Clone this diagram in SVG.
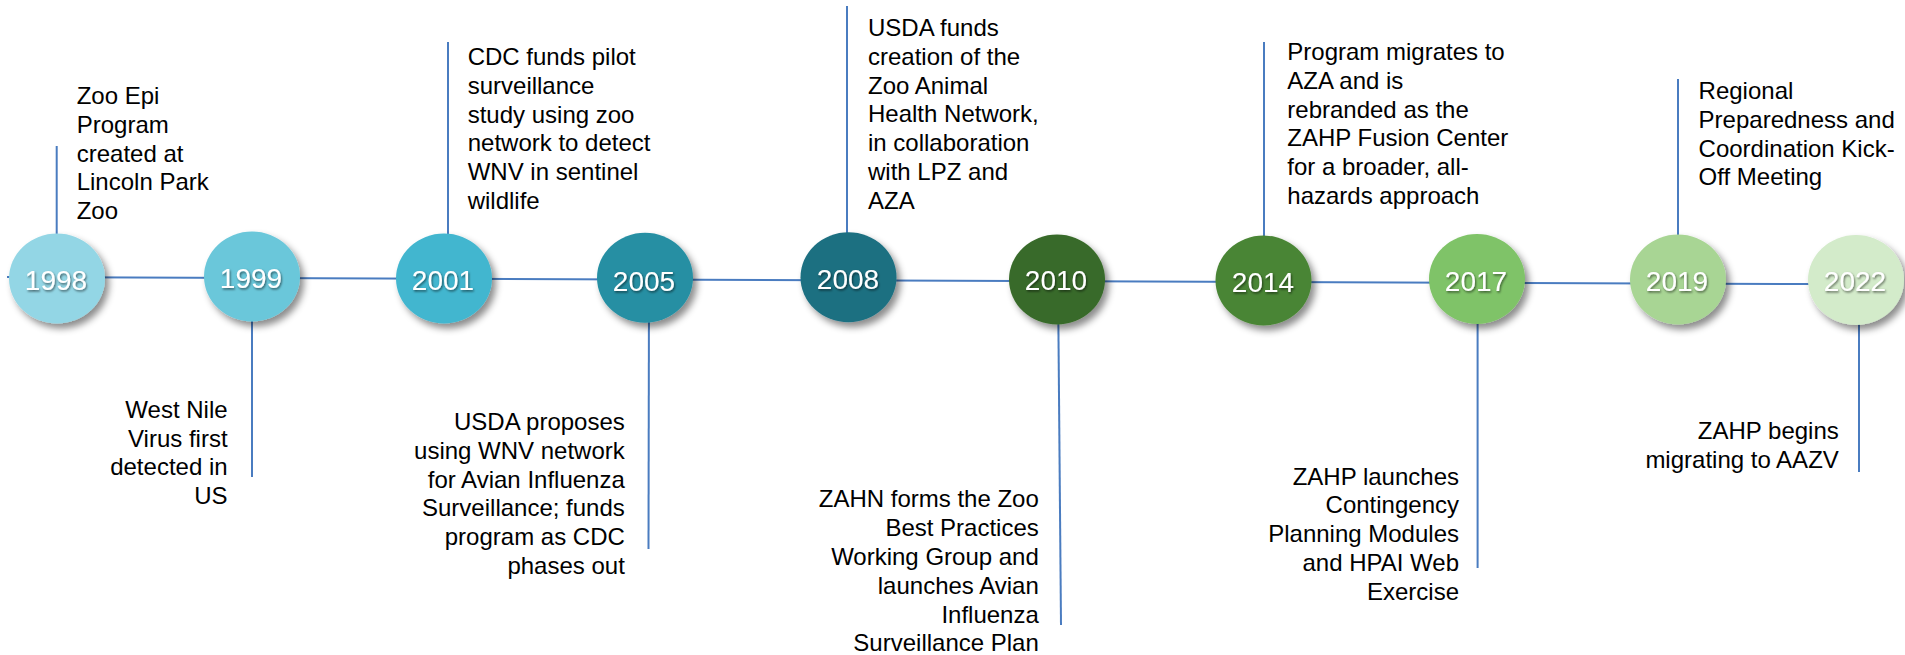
<svg xmlns="http://www.w3.org/2000/svg" width="1905" height="655" viewBox="0 0 1905 655">
<defs>
<filter id="sh" x="-30%" y="-30%" width="170%" height="170%">
<feDropShadow dx="4" dy="5" stdDeviation="3.5" flood-color="#000" flood-opacity="0.45"/>
</filter>
<filter id="tsh" x="-20%" y="-30%" width="140%" height="170%">
<feDropShadow dx="1" dy="1.5" stdDeviation="0.8" flood-color="#000" flood-opacity="0.55"/>
</filter>
</defs>
<style>
.ln{stroke:#4A7CC0;stroke-width:2;fill:none}
.yr{font-family:"Liberation Sans",Arial,sans-serif;font-size:28px;fill:#fff;text-anchor:middle}
.t{font-family:"Liberation Sans",Arial,sans-serif;font-size:24px;fill:#000}
.r{text-anchor:end}
</style>
<rect width="1905" height="655" fill="#fff"/>
<g id="connectors">
<line class="ln" x1="7" y1="277" x2="1810" y2="284"/>
<line class="ln" x1="56.7" y1="146" x2="56.7" y2="270"/>
<line class="ln" x1="252" y1="280" x2="252" y2="477"/>
<line class="ln" x1="448" y1="42" x2="448" y2="270"/>
<line class="ln" x1="649" y1="280" x2="648.5" y2="549"/>
<line class="ln" x1="847" y1="6" x2="847" y2="270"/>
<line class="ln" x1="1058" y1="280" x2="1061" y2="625"/>
<line class="ln" x1="1264" y1="42" x2="1264" y2="270"/>
<line class="ln" x1="1477.6" y1="280" x2="1477.6" y2="568"/>
<line class="ln" x1="1678" y1="79" x2="1678" y2="270"/>
<line class="ln" x1="1859" y1="285" x2="1859" y2="472"/>
</g>
<g id="n1998">
<ellipse cx="57" cy="278.5" rx="48" ry="45" fill="#93D6E5" filter="url(#sh)"/>
<text class="yr" x="56" y="289.5" filter="url(#tsh)">1998</text>
<text class="t" x="76.7" y="104"><tspan x="76.7">Zoo Epi</tspan><tspan x="76.7" dy="28.8">Program</tspan><tspan x="76.7" dy="28.8">created at</tspan><tspan x="76.7" dy="28.8">Lincoln Park</tspan><tspan x="76.7" dy="28.8">Zoo</tspan></text>
</g>
<g id="n1999">
<ellipse cx="252" cy="276.5" rx="48" ry="45" fill="#6AC7DA" filter="url(#sh)"/>
<text class="yr" x="251" y="287.5" filter="url(#tsh)">1999</text>
<text class="t r" x="227.6" y="417.7"><tspan x="227.6">West Nile</tspan><tspan x="227.6" dy="28.8">Virus first</tspan><tspan x="227.6" dy="28.8">detected in</tspan><tspan x="227.6" dy="28.8">US</tspan></text>
</g>
<g id="n2001">
<ellipse cx="444" cy="278.5" rx="48" ry="45" fill="#42B6CF" filter="url(#sh)"/>
<text class="yr" x="443" y="289.5" filter="url(#tsh)">2001</text>
<text class="t" x="467.7" y="65"><tspan x="467.7">CDC funds pilot</tspan><tspan x="467.7" dy="28.8">surveillance</tspan><tspan x="467.7" dy="28.8">study using zoo</tspan><tspan x="467.7" dy="28.8">network to detect</tspan><tspan x="467.7" dy="28.8">WNV in sentinel</tspan><tspan x="467.7" dy="28.8">wildlife</tspan></text>
</g>
<g id="n2005">
<ellipse cx="645" cy="277.7" rx="48" ry="45" fill="#258FA3" filter="url(#sh)"/>
<text class="yr" x="644" y="290.5" filter="url(#tsh)">2005</text>
<text class="t r" x="624.8" y="430"><tspan x="624.8">USDA proposes</tspan><tspan x="624.8" dy="28.8">using WNV network</tspan><tspan x="624.8" dy="28.8">for Avian Influenza</tspan><tspan x="624.8" dy="28.8">Surveillance; funds</tspan><tspan x="624.8" dy="28.8">program as CDC</tspan><tspan x="624.8" dy="28.8">phases out</tspan></text>
</g>
<g id="n2008">
<ellipse cx="848.5" cy="277.3" rx="48" ry="45" fill="#1E6F81" filter="url(#sh)"/>
<text class="yr" x="848" y="289" filter="url(#tsh)">2008</text>
<text class="t" x="868" y="36"><tspan x="868">USDA funds</tspan><tspan x="868" dy="28.8">creation of the</tspan><tspan x="868" dy="28.8">Zoo Animal</tspan><tspan x="868" dy="28.8">Health Network,</tspan><tspan x="868" dy="28.8">in collaboration</tspan><tspan x="868" dy="28.8">with LPZ and</tspan><tspan x="868" dy="28.8">AZA</tspan></text>
</g>
<g id="n2010">
<ellipse cx="1057" cy="279.5" rx="48" ry="45" fill="#386A29" filter="url(#sh)"/>
<text class="yr" x="1056" y="290" filter="url(#tsh)">2010</text>
<text class="t r" x="1038.8" y="507.3"><tspan x="1038.8">ZAHN forms the Zoo</tspan><tspan x="1038.8" dy="28.8">Best Practices</tspan><tspan x="1038.8" dy="28.8">Working Group and</tspan><tspan x="1038.8" dy="28.8">launches Avian</tspan><tspan x="1038.8" dy="28.8">Influenza</tspan><tspan x="1038.8" dy="28.8">Surveillance Plan</tspan></text>
</g>
<g id="n2014">
<ellipse cx="1263.5" cy="280.5" rx="48" ry="45" fill="#4A8535" filter="url(#sh)"/>
<text class="yr" x="1263" y="291.5" filter="url(#tsh)">2014</text>
<text class="t" x="1287.3" y="60"><tspan x="1287.3">Program migrates to</tspan><tspan x="1287.3" dy="28.8">AZA and is</tspan><tspan x="1287.3" dy="28.8">rebranded as the</tspan><tspan x="1287.3" dy="28.8">ZAHP Fusion Center</tspan><tspan x="1287.3" dy="28.8">for a broader, all-</tspan><tspan x="1287.3" dy="28.8">hazards approach</tspan></text>
</g>
<g id="n2017">
<ellipse cx="1477" cy="279" rx="48" ry="45" fill="#7FC367" filter="url(#sh)"/>
<text class="yr" x="1476" y="291" filter="url(#tsh)">2017</text>
<text class="t r" x="1459" y="484.5"><tspan x="1459">ZAHP launches</tspan><tspan x="1459" dy="28.8">Contingency</tspan><tspan x="1459" dy="28.8">Planning Modules</tspan><tspan x="1459" dy="28.8">and HPAI Web</tspan><tspan x="1459" dy="28.8">Exercise</tspan></text>
</g>
<g id="n2019">
<ellipse cx="1678" cy="279.5" rx="48" ry="45" fill="#A8D594" filter="url(#sh)"/>
<text class="yr" x="1677" y="291" filter="url(#tsh)">2019</text>
<text class="t" x="1698.6" y="99"><tspan x="1698.6">Regional</tspan><tspan x="1698.6" dy="28.8">Preparedness and</tspan><tspan x="1698.6" dy="28.8">Coordination Kick-</tspan><tspan x="1698.6" dy="28.8">Off Meeting</tspan></text>
</g>
<g id="n2022">
<ellipse cx="1856" cy="280" rx="48" ry="45" fill="#D3EBCA" filter="url(#sh)"/>
<text class="yr" x="1855" y="291" filter="url(#tsh)">2022</text>
<text class="t r" x="1838.8" y="439"><tspan x="1838.8">ZAHP begins</tspan><tspan x="1838.8" dy="28.8">migrating to AAZV</tspan></text>
</g>
</svg>
